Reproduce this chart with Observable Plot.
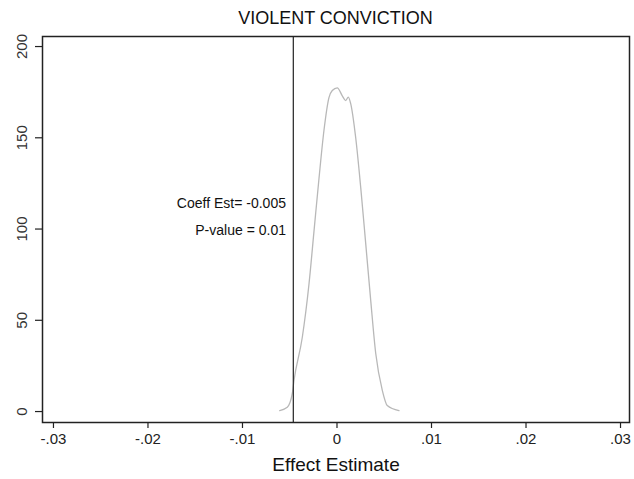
<!DOCTYPE html>
<html>
<head>
<meta charset="utf-8">
<script src="https://cdn.jsdelivr.net/npm/d3@7"></script>
<script src="https://cdn.jsdelivr.net/npm/@observablehq/plot@0.6"></script>
<style>
body { margin: 0; background: #fff; font-family: Arial, "Liberation Sans", sans-serif; }
#title { height: 30px; line-height: 37px; padding-left: 42px; width: 587px; text-align: center; font-size: 18px; color: #111; }
</style>
</head>
<body>
<div id="title">VIOLENT CONVICTION</div>
<div id="chart"></div>
<script>
const effectX = [-0.00606, -0.00526, -0.00473, -0.00455, -0.00367, -0.00296, -0.00243, -0.0019, -0.00138, -0.00085, -0.0005, 0.00003, 0.00056, 0.00092, 0.0012, 0.00145, 0.00198, 0.00251, 0.00304, 0.00357, 0.0041, 0.0048, 0.00532, 0.00656];
const density = [0.5, 2.3, 9.9, 17, 40.7, 70, 99, 128, 154, 172, 175.9, 177.4, 173, 170.4, 172.3, 168.7, 150, 122.8, 92, 60.8, 31.8, 11.5, 3.3, 0.5];
const coeffEst = [-0.00462];
const xTicks = [-0.03, -0.02, -0.01, 0, 0.01, 0.02, 0.03];
const xTickLabels = ["-.03", "-.02", "-.01", "0", ".01", ".02", ".03"];
const yTicks = [0, 50, 100, 150, 200];
const annotations = ["Coeff Est= -0.005", "P-value = 0.01"];
const annotationY = [114, 99];
const annotationX = -0.0054;

const curve = effectX.map((x, i) => ({x, y: density[i]}));
const notes = annotations.map((t, i) => ({t, x: annotationX, y: annotationY[i]}));

const chart = Plot.plot({
  width: 634,
  height: 449,
  marginTop: 6,
  marginBottom: 57,
  marginLeft: 42,
  marginRight: 5,
  style: {fontFamily: 'Arial, "Liberation Sans", sans-serif', background: "#fff"},
  x: {domain: [-0.03116, 0.03095]},
  y: {domain: [-6, 205.5]},
  marks: [
    Plot.axisX({ticks: xTicks, tickSize: 6, tickPadding: 5, tickFormat: (d, i) => xTickLabels[i], fontSize: 15, label: null, stroke: "#222", color: "#222", strokeWidth: 1.2}),
    Plot.axisY({ticks: yTicks, tickSize: 7, tickFormat: () => "", label: null, stroke: "#222", strokeWidth: 1.2}),
    Plot.text(yTicks, {y: d => d, text: d => String(d), frameAnchor: "left", textAnchor: "middle", dx: -20, rotate: -90, fontSize: 15, fill: "#333"}),
    Plot.text(["Effect Estimate"], {frameAnchor: "bottom", dy: 48, fontSize: 19, fill: "#111"}),
    Plot.line(curve, {x: "x", y: "y", stroke: "#b8b8b8", strokeWidth: 1.3, curve: "monotone-x"}),
    Plot.ruleX(coeffEst, {stroke: "#333", strokeWidth: 1.3}),
    Plot.text(notes, {x: "x", y: "y", text: "t", textAnchor: "end", fontSize: 14, fill: "#111"}),
    Plot.frame({stroke: "#222", strokeWidth: 1.5})
  ]
});
document.getElementById("chart").appendChild(chart);
</script>
</body>
</html>
